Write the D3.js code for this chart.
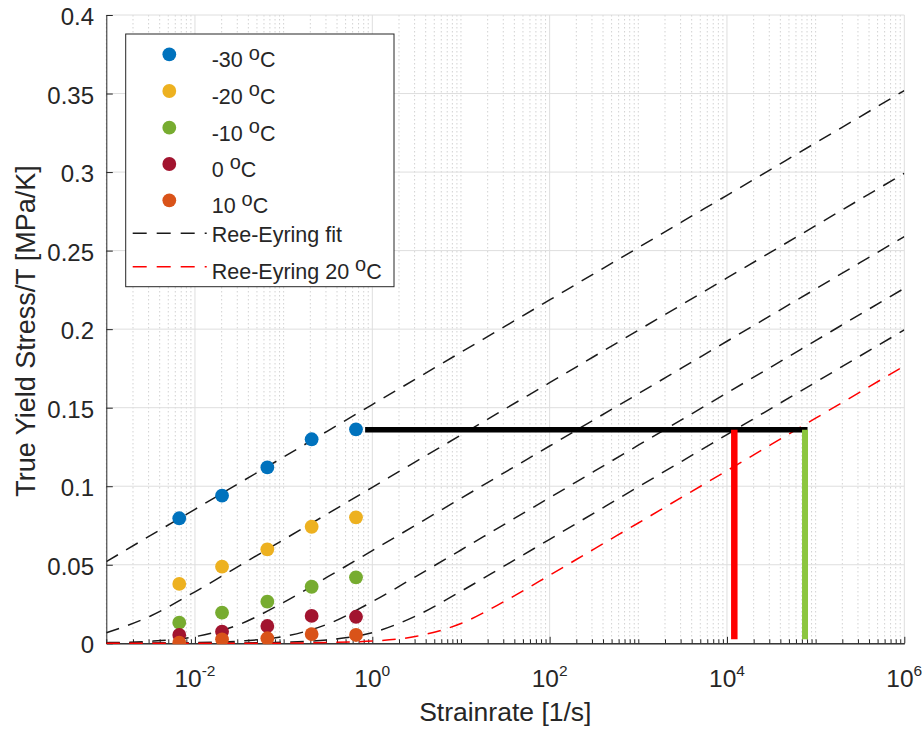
<!DOCTYPE html>
<html>
<head>
<meta charset="utf-8">
<script src="https://cdn.jsdelivr.net/npm/d3@7"></script>
<style>
  html, body { margin: 0; padding: 0; background: #fff; }
  svg { display: block; }
  text { font-family: "Liberation Sans", Arial, Helvetica, sans-serif; fill: #262626; }
</style>
</head>
<body>
<svg id="chart" width="923" height="729"></svg>
<script>
// ---------------- data ----------------
const seriesNames = ["-30", "-20", "-10", "0", "10"];
const seriesColors = ["#0072BD", "#EDB120", "#77AC30", "#A2142F", "#D95319"];
const strainRates = [0.00665, 0.0202, 0.0655, 0.207, 0.655];
const stressM30 = [0.0796, 0.0940, 0.1120, 0.1299, 0.1362];
const stressM20 = [0.0378, 0.0488, 0.0598, 0.0742, 0.0802];
const stressM10 = [0.0131, 0.0195, 0.0265, 0.0360, 0.0420];
const stress0   = [0.0053, 0.0074, 0.0110, 0.0174, 0.0169];
const stress10  = [0.0004, 0.0025, 0.0032, 0.0059, 0.0053];

// Ree-Eyring fit curves, read at half-decade strain rates
const fitRates = [0.001, 0.00316, 0.01, 0.0316, 0.1, 0.316, 1, 3.16, 10, 31.6, 100, 316,
                  1000, 3162, 10000, 31623, 100000, 316228, 1000000];
const fitM30 = [0.0520,0.0687,0.0853,0.1020,0.1186,0.1353,0.1520,0.1686,0.1853,0.2019,0.2186,0.2353,0.2519,0.2686,0.2852,0.3019,0.3186,0.3352,0.3519];
const fitM20 = [0.0067,0.0174,0.0328,0.0493,0.0660,0.0826,0.0993,0.1160,0.1326,0.1493,0.1659,0.1826,0.1993,0.2159,0.2326,0.2492,0.2659,0.2826,0.2992];
const fitM10 = [0.0004,0.0013,0.0042,0.0120,0.0261,0.0424,0.0590,0.0756,0.0923,0.1090,0.1256,0.1423,0.1589,0.1756,0.1923,0.2089,0.2256,0.2423,0.2589];
const fit0   = [0.0000,0.0001,0.0004,0.0014,0.0043,0.0123,0.0265,0.0428,0.0594,0.0761,0.0927,0.1094,0.1261,0.1427,0.1594,0.1760,0.1927,0.2094,0.2260];
const fit10  = [0.0000,0.0000,0.0001,0.0002,0.0007,0.0022,0.0068,0.0176,0.0331,0.0496,0.0662,0.0829,0.0996,0.1162,0.1329,0.1496,0.1662,0.1829,0.1995];
const fit20  = [0.0000,0.0000,0.0000,0.0000,0.0001,0.0005,0.0014,0.0045,0.0126,0.0270,0.0433,0.0600,0.0766,0.0933,0.1099,0.1266,0.1433,0.1599,0.1766];

// reference lines
const refStress = 0.136;
const refStartRate = 0.83;
const refEndRate = 81000;
const redRate = 12100;
const greenRate = 75900;
const vertBottom = 0.0025;

const xMajorTicks = [0.01, 1, 100, 10000, 1000000];
const xMajorExp = ["-2", "0", "2", "4", "6"];
const yTicks = [0, 0.05, 0.1, 0.15, 0.2, 0.25, 0.3, 0.35, 0.4];
const yTickLabels = ["0", "0.05", "0.1", "0.15", "0.2", "0.25", "0.3", "0.35", "0.4"];
const xLabel = "Strainrate [1/s]";
const yLabel = "True Yield Stress/T [MPa/K]";
const legendFit = "Ree-Eyring fit";
const legendRed = "Ree-Eyring 20 ";

// ---------------- layout ----------------
const L = 106.3, R = 904.3, T = 15, B = 643.3;
const svg = d3.select("#chart");
const x = d3.scaleLog().domain([1e-3, 1e6]).range([L, R]);
const y = d3.scaleLinear().domain([0, 0.4]).range([B, T]);
const axisColor = "#262626";

// minor x values
const xMinor = [];
for (let k = -3; k <= 5; k++) {
  for (let n = 1; n <= 9; n++) {
    const v = n * Math.pow(10, k);
    if (n === 1 && k % 2 === 0) continue;
    xMinor.push(v);
  }
}

// ---------------- grid ----------------
const grid = svg.append("g");
grid.selectAll(".minor").data(xMinor).join("line")
  .attr("x1", d => x(d)).attr("x2", d => x(d)).attr("y1", T).attr("y2", B)
  .attr("stroke", "#d2d2d2").attr("stroke-width", 1).attr("stroke-dasharray", "1.5,2.5");
grid.selectAll(".hmaj").data(yTicks.slice(1)).join("line")
  .attr("x1", L).attr("x2", R).attr("y1", d => y(d)).attr("y2", d => y(d))
  .attr("stroke", "#dedede").attr("stroke-width", 1);
grid.selectAll(".vmaj").data(xMajorTicks).join("line")
  .attr("x1", d => x(d)).attr("x2", d => x(d)).attr("y1", T).attr("y2", B)
  .attr("stroke", "#dedede").attr("stroke-width", 1);

// ---------------- axes ----------------
const xAxisMinor = d3.axisBottom(x).tickValues(xMinor).tickSize(-4).tickSizeOuter(0).tickFormat(() => "");
const xAxisMajor = d3.axisBottom(x).tickValues(xMajorTicks).tickSize(-6.5).tickSizeOuter(0).tickFormat(() => "");
const yAxis = d3.axisLeft(y).tickValues(yTicks).tickSize(-6.5).tickSizeOuter(0).tickFormat(() => "");

function styleAxis(g) {
  g.selectAll("path, line").attr("stroke", axisColor).attr("stroke-width", 1);
}
svg.append("g").attr("transform", `translate(0,${B})`).call(xAxisMinor).call(styleAxis);
svg.append("g").attr("transform", `translate(0,${B})`).call(xAxisMajor).call(styleAxis);
svg.append("g").attr("transform", `translate(${L},0)`).call(yAxis).call(styleAxis);

// tick labels
const yl = svg.append("g");
yTicks.forEach((v, i) => {
  yl.append("text").attr("x", 94).attr("y", y(v) + 10)
    .attr("text-anchor", "end").attr("font-size", 24).text(yTickLabels[i]);
});
const xl = svg.append("g");
xMajorTicks.forEach((v, i) => {
  const t = xl.append("text").attr("x", x(v)).attr("y", 686.7)
    .attr("text-anchor", "middle").attr("font-size", 24.5);
  t.append("tspan").text("10");
  t.append("tspan").attr("font-size", 15.5).attr("dy", -10.5).text(xMajorExp[i]);
});

// axis labels
svg.append("text").attr("x", (L + R) / 2).attr("y", 721).attr("text-anchor", "middle")
  .attr("font-size", 26.5).text(xLabel);
svg.append("text").attr("transform", "translate(34.5,331) rotate(-90)")
  .attr("text-anchor", "middle").attr("font-size", 27).text(yLabel);

// ---------------- curves ----------------
svg.append("clipPath").attr("id", "plotclip").append("rect")
  .attr("x", L).attr("y", T - 1).attr("width", R - L).attr("height", B - T + 2);
const plot = svg.append("g").attr("clip-path", "url(#plotclip)");

const line = d3.line().x(d => x(d[0])).y(d => y(d[1])).curve(d3.curveMonotoneX);
const dash = "13.5,9.5";
[fitM30, fitM20, fitM10, fit0, fit10].forEach(f => {
  plot.append("path").datum(fitRates.map((r, i) => [r, f[i]]))
    .attr("d", line).attr("fill", "none").attr("stroke", "#1a1a1a")
    .attr("stroke-width", 1.5).attr("stroke-dasharray", dash);
});
plot.append("path").datum(fitRates.map((r, i) => [r, fit20[i]]))
  .attr("d", line).attr("fill", "none").attr("stroke", "#ff0000")
  .attr("stroke-width", 1.5).attr("stroke-dasharray", dash);

// ---------------- markers ----------------
const allSeries = [stressM30, stressM20, stressM10, stress0, stress10];
allSeries.forEach((s, si) => {
  plot.selectAll(null).data(strainRates.map((r, i) => [r, s[i]])).join("circle")
    .attr("cx", d => x(d[0])).attr("cy", d => y(d[1])).attr("r", 6.9)
    .attr("fill", seriesColors[si]);
});

// ---------------- reference lines ----------------
svg.append("line").attr("x1", x(refStartRate)).attr("x2", x(refEndRate))
  .attr("y1", y(refStress)).attr("y2", y(refStress))
  .attr("stroke", "#000").attr("stroke-width", 5.5);
svg.append("line").attr("x1", x(redRate)).attr("x2", x(redRate))
  .attr("y1", y(refStress)).attr("y2", y(vertBottom))
  .attr("stroke", "#ff0000").attr("stroke-width", 6.5);
svg.append("line").attr("x1", x(greenRate)).attr("x2", x(greenRate))
  .attr("y1", y(refStress)).attr("y2", y(vertBottom))
  .attr("stroke", "#8cc63f").attr("stroke-width", 6);

// ---------------- legend ----------------
const lg = svg.append("g");
lg.append("rect").attr("x", 125.7).attr("y", 34).attr("width", 268.3).attr("height", 252.7)
  .attr("fill", "#fff").attr("stroke", axisColor).attr("stroke-width", 1);
const rowY = [54.3, 91, 127.7, 164, 200.3, 233.3, 266.7];
const textX = 211.7;
function degreeText(g, yy, prefix) {
  const t = g.append("text").attr("x", textX).attr("y", yy).attr("font-size", 21.5);
  t.append("tspan").text(prefix);
  t.append("tspan").attr("dy", -7.6).attr("font-size", 20).text("o");
  t.append("tspan").attr("dy", 7.6).text("C");
}
seriesNames.forEach((n, i) => {
  lg.append("circle").attr("cx", 169.3).attr("cy", rowY[i]).attr("r", 6.9).attr("fill", seriesColors[i]);
  degreeText(lg, rowY[i] + 12.8, n + " ");
});
lg.append("line").attr("x1", 132.7).attr("x2", 206.7).attr("y1", rowY[5]).attr("y2", rowY[5])
  .attr("stroke", "#1a1a1a").attr("stroke-width", 1.5).attr("stroke-dasharray", "14,10");
lg.append("text").attr("x", textX).attr("y", rowY[5] + 8.2).attr("font-size", 21.5).text(legendFit);
lg.append("line").attr("x1", 132.7).attr("x2", 206.7).attr("y1", rowY[6]).attr("y2", rowY[6])
  .attr("stroke", "#ff0000").attr("stroke-width", 1.5).attr("stroke-dasharray", "14,10");
degreeText(lg, rowY[6] + 11.8, legendRed);
</script>
</body>
</html>
